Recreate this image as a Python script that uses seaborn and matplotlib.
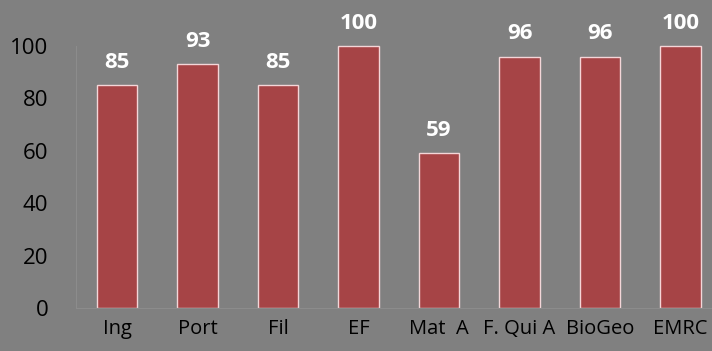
import matplotlib
matplotlib.use("Agg")
import matplotlib.pyplot as plt
import seaborn as sns
import pandas as pd

# chart data
categories = ["Ing", "Port", "Fil", "EF", "Mat  A", "F. Qui A", "BioGeo", "EMRC"]
values = [85, 93, 85, 100, 59, 96, 96, 100]

df = pd.DataFrame({"cat": categories, "val": values})

sns.set_style("white")
plt.rcParams['font.family'] = ['Open Sans', 'DejaVu Sans']

bg = "#808080"
fig = plt.figure(figsize=(7.12, 3.51), dpi=100, facecolor=bg)
ax = fig.add_axes([76 / 712, 43 / 351, 636 / 712, 308 / 351])
ax.set_facecolor(bg)

sns.barplot(data=df, x="cat", y="val", color="#A64446", width=0.5,
            edgecolor="#F4D6D8", linewidth=1.0, saturation=1, ax=ax)

# value labels above bars
ax.bar_label(ax.containers[0], padding=9, color="white",
             fontweight="bold", fontsize=16)

ax.set_xlim(-0.51, 7.39)
ax.set_ylim(0, 117.6)
ax.set_yticks([0, 20, 40, 60, 80, 100])
ax.set_xlabel("")
ax.set_ylabel("")
ax.tick_params(axis="both", length=0, colors="black")
ax.tick_params(axis="y", pad=20, labelsize=16)
ax.tick_params(axis="x", pad=8, labelsize=14.5)

for s in ["top", "right"]:
    ax.spines[s].set_visible(False)
for s in ["left", "bottom"]:
    ax.spines[s].set_color("#8c8c8c")
    ax.spines[s].set_linewidth(0.8)
ax.spines["left"].set_bounds(0, 100)

fig.savefig("out.png", dpi=100, facecolor=bg)
